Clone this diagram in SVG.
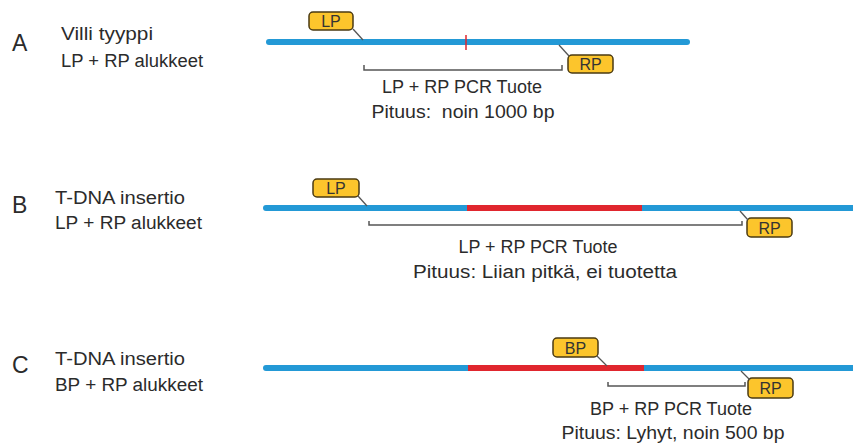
<svg xmlns="http://www.w3.org/2000/svg" width="853" height="443" viewBox="0 0 853 443">
<style>
  text { font-family: "Liberation Sans", Arial, sans-serif; fill: #2b2b2b; }
  .letter { font-size: 23px; }
  .lbl { font-size: 18px; }
  .pcr { font-size: 18px; text-anchor: middle; }
  .dna { stroke: #2399d6; stroke-width: 6; stroke-linecap: round; fill: none; }
  .ins { stroke: #e0262e; stroke-width: 6; fill: none; }
  .tag rect { fill: #fcc52c; stroke: #4a3a12; stroke-width: 1.5; }
  .tag text { font-size: 16px; text-anchor: middle; fill: #333; }
  .lead { stroke: #555; stroke-width: 1.3; fill: none; }
  .brk { stroke: #555; stroke-width: 1.5; fill: none; }
</style>
<rect width="853" height="443" fill="#ffffff"/>

<!-- Row A -->
<g id="rowA">
  <text class="letter" x="12" y="51">A</text>
  <text class="lbl" x="61" y="40" textLength="92" lengthAdjust="spacingAndGlyphs">Villi tyyppi</text>
  <text class="lbl" x="61" y="67" textLength="142" lengthAdjust="spacingAndGlyphs">LP + RP alukkeet</text>
  <line class="dna" x1="269" y1="42" x2="687" y2="42"/>
  <line x1="466" y1="35" x2="466" y2="50" stroke="#e0262e" stroke-width="1.5"/>
</g>
<g id="A_LP" class="tag">
  <rect x="309" y="12" width="44" height="18" rx="4"/>
  <text x="331" y="27">LP</text>
</g>
<g id="A_RP" class="tag">
  <rect x="568" y="55" width="45" height="18" rx="4"/>
  <text x="590.5" y="70">RP</text>
</g>
<g id="A_product">
  <text class="pcr" x="462" y="93" textLength="160" lengthAdjust="spacingAndGlyphs">LP + RP PCR Tuote</text>
  <text class="pcr" x="463" y="118" textLength="183" lengthAdjust="spacingAndGlyphs" xml:space="preserve">Pituus:  noin 1000 bp</text>
</g>

<!-- Row B -->
<g id="rowB">
  <text class="letter" x="12" y="213">B</text>
  <text class="lbl" x="55" y="204" textLength="130" lengthAdjust="spacingAndGlyphs">T-DNA insertio</text>
  <text class="lbl" x="55" y="229" textLength="147" lengthAdjust="spacingAndGlyphs">LP + RP alukkeet</text>
  <line class="dna" x1="266" y1="208" x2="853" y2="208"/>
  <line class="ins" x1="467" y1="208" x2="642" y2="208"/>
</g>
<g id="B_LP" class="tag">
  <rect x="313" y="179" width="46" height="18" rx="4"/>
  <text x="336" y="194">LP</text>
</g>
<g id="B_RP" class="tag">
  <rect x="747" y="218" width="45" height="19" rx="4"/>
  <text x="769.5" y="234">RP</text>
</g>
<g id="B_product">
  <text class="pcr" x="538" y="253" textLength="159" lengthAdjust="spacingAndGlyphs">LP + RP PCR Tuote</text>
  <text class="pcr" x="545" y="278" textLength="264" lengthAdjust="spacingAndGlyphs">Pituus: Liian pitkä, ei tuotetta</text>
</g>

<!-- Row C -->
<g id="rowC">
  <text class="letter" x="12" y="373">C</text>
  <text class="lbl" x="55" y="365" textLength="130" lengthAdjust="spacingAndGlyphs">T-DNA insertio</text>
  <text class="lbl" x="55" y="391" textLength="148" lengthAdjust="spacingAndGlyphs">BP + RP alukkeet</text>
  <line class="dna" x1="266" y1="368" x2="853" y2="368"/>
  <line class="ins" x1="468" y1="368" x2="644" y2="368"/>
</g>
<g id="C_BP" class="tag">
  <rect x="553" y="338" width="45" height="19" rx="4"/>
  <text x="575.5" y="354">BP</text>
</g>
<g id="C_RP" class="tag">
  <rect x="748" y="378" width="45" height="20" rx="4"/>
  <text x="770.5" y="394">RP</text>
</g>
<g id="C_product">
  <text class="pcr" x="671" y="415" textLength="162" lengthAdjust="spacingAndGlyphs">BP + RP PCR Tuote</text>
  <text class="pcr" x="673" y="439" textLength="223" lengthAdjust="spacingAndGlyphs">Pituus: Lyhyt, noin 500 bp</text>
</g>

<!-- Connectors: leaders and product brackets -->
<g id="connectors">
  <line class="lead" x1="353" y1="29" x2="363" y2="40"/>
  <line class="lead" x1="559" y1="45" x2="569" y2="56"/>
  <path class="brk" d="M364 65 V70 H562 V65"/>

  <line class="lead" x1="358" y1="196" x2="367" y2="206"/>
  <line class="lead" x1="740" y1="211" x2="748" y2="220"/>
  <path class="brk" d="M369 221 V225 H742 V221"/>

  <line class="lead" x1="597" y1="356" x2="607" y2="366"/>
  <line class="lead" x1="741" y1="371" x2="750" y2="380"/>
  <path class="brk" d="M608 382 V386 H745 V382"/>
</g>
</svg>
